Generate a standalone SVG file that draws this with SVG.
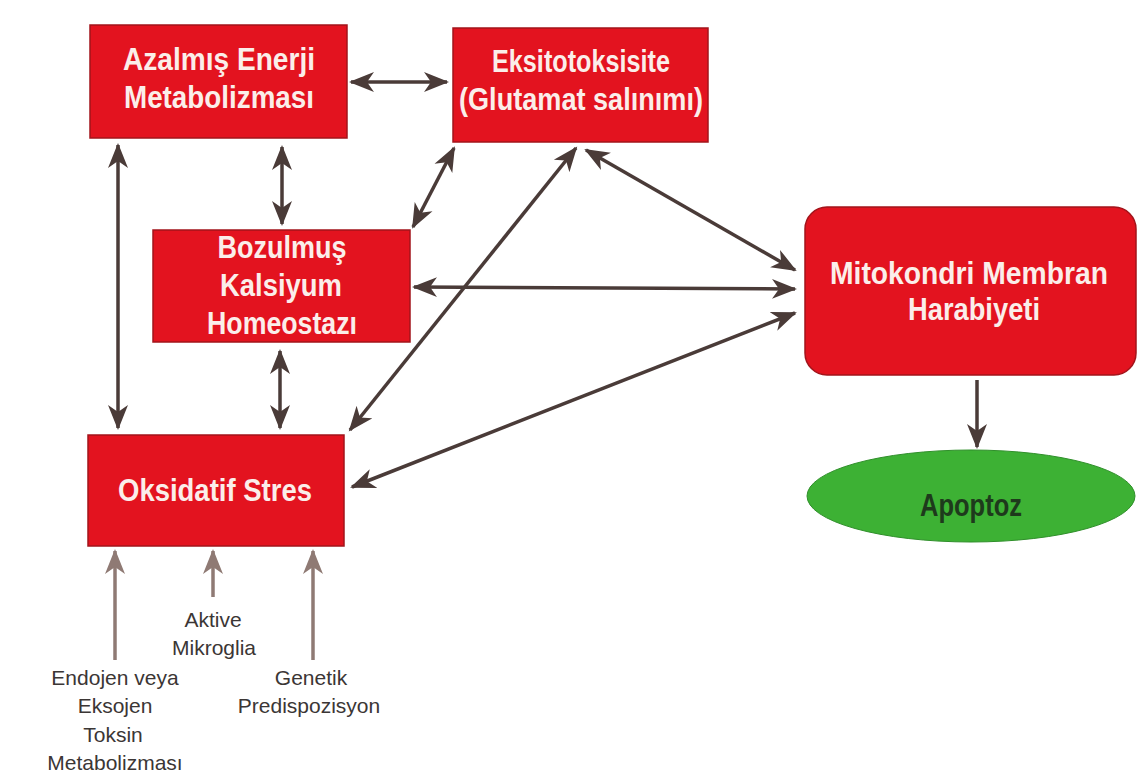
<svg xmlns="http://www.w3.org/2000/svg" width="1139" height="780" viewBox="0 0 1139 780">
<style>
.box{fill:#e3131f;stroke:#a3141b;stroke-width:1.5}
.bt{font-family:"Liberation Sans",Arial,sans-serif;font-weight:bold;font-size:31px;fill:#fbeeea;text-anchor:middle}
.lt{font-family:"Liberation Sans",Arial,sans-serif;font-size:21px;fill:#3b3635;text-anchor:middle}
.c{stroke:#4a3b38;stroke-width:3.5;fill:none;marker-start:url(#ah);marker-end:url(#ah)}
.c1{stroke:#4a3b38;stroke-width:3.5;fill:none;marker-end:url(#ah)}
.cl{stroke:#8f7a74;stroke-width:3.5;fill:none;marker-end:url(#ahl)}
</style>
<defs>
<marker id="ah" markerUnits="userSpaceOnUse" markerWidth="26" markerHeight="22" refX="23" refY="10" orient="auto-start-reverse" viewBox="0 0 26 20">
<path d="M0,0 L25,10 L0,20 L7,10 z" fill="#4a3b38"/>
</marker>
<marker id="ahl" markerUnits="userSpaceOnUse" markerWidth="26" markerHeight="22" refX="23" refY="10" orient="auto-start-reverse" viewBox="0 0 26 20">
<path d="M0,0 L25,10 L0,20 L7,10 z" fill="#8f7a74"/>
</marker>
</defs>
<rect width="1139" height="780" fill="#ffffff"/>
<g id="connectors">
<line class="c" x1="351" y1="82" x2="447" y2="82"/>
<line class="c" x1="118" y1="145" x2="118" y2="428"/>
<line class="c" x1="282" y1="147" x2="282" y2="224"/>
<line class="c" x1="454" y1="148" x2="413" y2="227"/>
<line class="c" x1="280" y1="351" x2="280" y2="428"/>
<line class="c" x1="414" y1="287" x2="795" y2="289"/>
<line class="c" x1="350" y1="430" x2="576" y2="148"/>
<line class="c" x1="586" y1="150" x2="795" y2="270"/>
<line class="c" x1="352" y1="487" x2="795" y2="313"/>
<line class="c1" x1="977" y1="380" x2="977" y2="447"/>
<line class="cl" x1="115" y1="660" x2="115" y2="551"/>
<line class="cl" x1="213" y1="597" x2="213" y2="551"/>
<line class="cl" x1="313" y1="660" x2="313" y2="551"/>
</g>
<g id="azalmis">
<rect class="box" x="90" y="25" width="257" height="113"/>
<text class="bt" x="219" y="70" textLength="192" lengthAdjust="spacingAndGlyphs">Azalmış Enerji</text>
<text class="bt" x="219" y="108" textLength="190" lengthAdjust="spacingAndGlyphs">Metabolizması</text>
</g>
<g id="eksitotoksisite">
<rect class="box" x="453" y="28" width="255" height="114"/>
<text class="bt" x="581" y="72" textLength="178" lengthAdjust="spacingAndGlyphs">Eksitotoksisite</text>
<text class="bt" x="581" y="110" textLength="244" lengthAdjust="spacingAndGlyphs">(Glutamat salınımı)</text>
</g>
<g id="bozulmus">
<rect class="box" x="153" y="230" width="257" height="112"/>
<text class="bt" x="282" y="258" textLength="129" lengthAdjust="spacingAndGlyphs">Bozulmuş</text>
<text class="bt" x="281" y="296" textLength="122" lengthAdjust="spacingAndGlyphs">Kalsiyum</text>
<text class="bt" x="282" y="334" textLength="150" lengthAdjust="spacingAndGlyphs">Homeostazı</text>
</g>
<g id="oksidatif">
<rect class="box" x="88" y="435" width="256" height="111"/>
<text class="bt" x="215" y="501" textLength="194" lengthAdjust="spacingAndGlyphs">Oksidatif Stres</text>
</g>
<g id="mitokondri">
<rect class="box" x="805" y="207" width="331" height="168" rx="22" ry="22"/>
<text class="bt" x="969" y="284" textLength="278" lengthAdjust="spacingAndGlyphs">Mitokondri Membran</text>
<text class="bt" x="974" y="320" textLength="132" lengthAdjust="spacingAndGlyphs">Harabiyeti</text>
</g>
<g id="apoptoz">
<ellipse cx="971" cy="496" rx="164" ry="46" fill="#3db134" stroke="#2f8f2a" stroke-width="1"/>
<text x="971" y="516" font-family="Liberation Sans,Arial,sans-serif" font-weight="bold" font-size="31" fill="#1e3a1c" text-anchor="middle" textLength="102" lengthAdjust="spacingAndGlyphs">Apoptoz</text>
</g>
<g id="labels">
<text class="lt" x="213" y="627">Aktive</text>
<text class="lt" x="214" y="655">Mikroglia</text>
<text class="lt" x="115" y="685">Endojen veya</text>
<text class="lt" x="115" y="713">Eksojen</text>
<text class="lt" x="113" y="742">Toksin</text>
<text class="lt" x="115" y="770">Metabolizması</text>
<text class="lt" x="311" y="685">Genetik</text>
<text class="lt" x="309" y="713">Predispozisyon</text>
</g>
</svg>
